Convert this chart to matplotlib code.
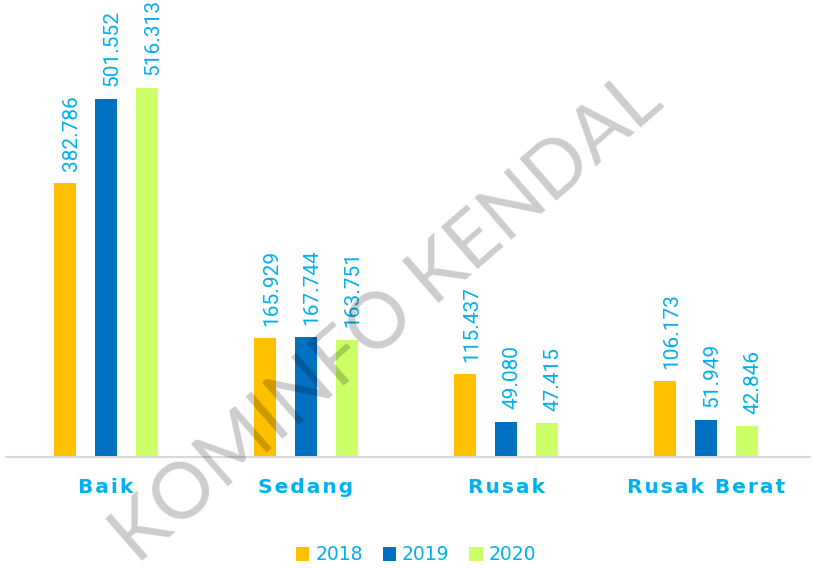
import matplotlib
matplotlib.use('Agg')
import matplotlib.pyplot as plt
from matplotlib.patches import Patch
import numpy as np

# data
kategori = ['Baik', 'Sedang', 'Rusak', 'Rusak Berat']
tahun = ['2018', '2019', '2020']
nilai_2018 = [382.786, 165.929, 115.437, 106.173]
nilai_2019 = [501.552, 167.744, 49.080, 51.949]
nilai_2020 = [516.313, 163.751, 47.415, 42.846]
label_2018 = ['382.786', '165.929', '115.437', '106.173']
label_2019 = ['501.552', '167.744', '49.080', '51.949']
label_2020 = ['516.313', '163.751', '47.415', '42.846']

warna = ['#FFC000', '#0070C0', '#CCFF66']
biru_teks = '#00B0F0'

fig = plt.figure(figsize=(8.15, 5.69), dpi=100, facecolor='white')
ax = fig.add_axes([6 / 815, 1 - 457 / 569, 804 / 815, 457 / 569])

x = np.arange(len(kategori))
lebar = 0.109
geser = 0.204
seri = [nilai_2018, nilai_2019, nilai_2020]
label = [label_2018, label_2019, label_2020]

for i in range(3):
    bars = ax.bar(x + (i - 1) * geser, seri[i], lebar, color=warna[i], zorder=2)
    for b, teks in zip(bars, label[i]):
        ax.annotate(teks, (b.get_x() + b.get_width() / 2, b.get_height()),
                    xytext=(4.5, 9), textcoords='offset points',
                    rotation=90, ha='center', va='bottom',
                    color=biru_teks, fontsize=15,
                    family=['Roboto', 'DejaVu Sans'],
                    annotation_clip=False)

ax.set_xlim(-0.5, 3.52)
ax.set_ylim(0, 457 / 0.7147)

# label kategori dengan jarak antar huruf
spasi = '\u200a'
ax.set_xticks(x)
ax.set_xticklabels([spasi.join(k) for k in kategori], fontsize=14.5, fontweight='bold',
                   color=biru_teks, va='center')
ax.tick_params(axis='x', length=0, pad=22)
ax.set_yticks([])
for s in ['top', 'left', 'right']:
    ax.spines[s].set_visible(False)
ax.spines['bottom'].set_color('#D9D9D9')
ax.spines['bottom'].set_linewidth(1.5)

handles = [Patch(facecolor=warna[i], label=tahun[i]) for i in range(3)]
leg = fig.legend(handles=handles, loc='center', bbox_to_anchor=(416 / 815, 1 - 555 / 569),
                 ncol=3, frameon=False, fontsize=13.5, handlelength=0.7, handleheight=0.7,
                 handletextpad=0.32, columnspacing=1.07)
for t in leg.get_texts():
    t.set_color(biru_teks)

# watermark
fig.text(388 / 815, 1 - 320 / 569, 'KOMINFO KENDAL', rotation=41, fontsize=56,
         color='black', alpha=0.2, ha='center', va='center', rotation_mode='anchor',
         family=['Lato', 'DejaVu Sans'], zorder=10)

fig.savefig('out.png', dpi=100)
